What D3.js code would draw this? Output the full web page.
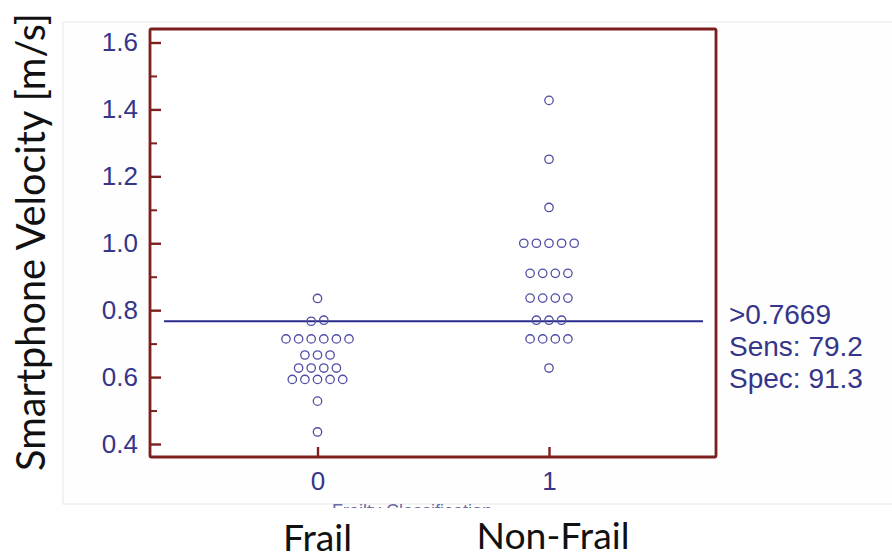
<!DOCTYPE html>
<html>
<head>
<meta charset="utf-8">
<script src="https://cdn.jsdelivr.net/npm/d3@7"></script>
<style>
  html, body { margin: 0; padding: 0; background: #ffffff; }
  svg { display: block; }
</style>
</head>
<body>
<svg id="chart" width="892" height="559"></svg>
<script>
// Smartphone gait velocity by frailty group (dot diagram with ROC criterion)
const groups = [0, 1];
const groupNames = ["Frail", "Non-Frail"];

const frailVelocity = [
  0.835,
  0.7669, 0.770,
  0.714, 0.714, 0.714, 0.714, 0.714, 0.714,
  0.666, 0.666, 0.666,
  0.627, 0.627, 0.627, 0.627,
  0.593, 0.593, 0.593, 0.593, 0.593,
  0.528,
  0.436
];

const nonFrailVelocity = [
  1.427,
  1.251,
  1.107,
  1.000, 1.000, 1.000, 1.000, 1.000,
  0.910, 0.910, 0.910, 0.910,
  0.836, 0.836, 0.836, 0.836,
  0.770, 0.770, 0.770,
  0.714, 0.714, 0.714, 0.714,
  0.627
];

const yTicks = [0.4, 0.6, 0.8, 1.0, 1.2, 1.4, 1.6];
const yMinorTicks = [0.5, 0.7, 0.9, 1.1, 1.3, 1.5];
const criterion = 0.7669;
const criterionLabels = [">0.7669", "Sens: 79.2", "Spec: 91.3"];

const svg = d3.select("#chart");
const W = 892, H = 559;

const box = { left: 150, top: 29, right: 716, bottom: 457 };

const y = d3.scaleLinear().domain([0.4, 1.6]).range([444, 42.5]);
const x = d3.scaleLinear().domain([0, 1]).range([317.5, 549]);

const RED = "#7d1f1f";
const BLUE = "#35358a";
const DOT = "#4e4ea3";
const AXFONT = "'Liberation Sans', Arial, sans-serif";
const TITLEFONT = "Lato, 'Open Sans', sans-serif";

// faint outer panel
svg.append("rect")
  .attr("x", 63).attr("y", 22)
  .attr("width", W - 63 + 5).attr("height", 482)
  .attr("fill", "#fefefe")
  .attr("stroke", "#ececec").attr("stroke-width", 1.2);

// partially hidden x-axis title (cut off by the panel edge)
const clip = svg.append("defs").append("clipPath").attr("id", "titleclip");
clip.append("rect").attr("x", 0).attr("y", 504).attr("width", W).attr("height", 4);
svg.append("text")
  .attr("clip-path", "url(#titleclip)")
  .attr("x", 412).attr("y", 517)
  .attr("text-anchor", "middle")
  .attr("font-family", AXFONT).attr("font-size", 18)
  .attr("fill", "#6a6aa6")
  .text("Frailty Classification");

// plot frame
svg.append("rect")
  .attr("x", box.left).attr("y", box.top)
  .attr("width", box.right - box.left).attr("height", box.bottom - box.top)
  .attr("fill", "#ffffff")
  .attr("stroke", RED).attr("stroke-width", 2.8)
  .attr("rx", 1.5);

// y axis: major ticks with labels, pointing inwards
const yAxis = svg.append("g")
  .attr("transform", `translate(${box.left},0)`)
  .call(d3.axisLeft(y).tickValues(yTicks).tickFormat(d3.format(".1f"))
    .tickSize(-11).tickPadding(12));
yAxis.select(".domain").remove();
yAxis.selectAll(".tick line").attr("stroke", RED).attr("stroke-width", 2.4);
yAxis.selectAll(".tick text")
  .attr("font-family", AXFONT).attr("font-size", 26).attr("fill", BLUE);

// y axis: minor ticks
const yMinor = svg.append("g")
  .attr("transform", `translate(${box.left},0)`)
  .call(d3.axisLeft(y).tickValues(yMinorTicks).tickFormat("").tickSize(-7));
yMinor.select(".domain").remove();
yMinor.selectAll(".tick line").attr("stroke", RED).attr("stroke-width", 2);

// x axis
const xAxis = svg.append("g")
  .attr("transform", `translate(0,${box.bottom})`)
  .call(d3.axisBottom(x).tickValues(groups).tickFormat(d3.format("d"))
    .tickSize(-10).tickPadding(15));
xAxis.select(".domain").remove();
xAxis.selectAll(".tick line").attr("stroke", RED).attr("stroke-width", 2.4);
xAxis.selectAll(".tick text")
  .attr("font-family", AXFONT).attr("font-size", 26).attr("fill", BLUE);

// criterion line
svg.append("line")
  .attr("x1", 164).attr("x2", 703)
  .attr("y1", y(criterion)).attr("y2", y(criterion))
  .attr("stroke", "#2b2b8c").attr("stroke-width", 2);

// dots: values sharing a bin are spread side by side
const step = 12.6;
function layout(values, g) {
  const rows = d3.group(values, v => Math.round(v * 100));
  const pts = [];
  for (const [, vals] of rows) {
    const n = vals.length;
    vals.forEach((v, i) => pts.push({ g, v, off: (i - (n - 1) / 2) * step }));
  }
  return pts;
}
const points = layout(frailVelocity, 0).concat(layout(nonFrailVelocity, 1));

svg.append("g").selectAll("circle")
  .data(points)
  .join("circle")
  .attr("cx", d => x(d.g) + d.off)
  .attr("cy", d => y(d.v))
  .attr("r", 4.2)
  .attr("fill", "none")
  .attr("stroke", DOT)
  .attr("stroke-width", 1.3);

// criterion annotation
svg.append("g").selectAll("text")
  .data(criterionLabels)
  .join("text")
  .attr("x", 729)
  .attr("y", (d, i) => 324 + i * 32)
  .attr("font-family", AXFONT).attr("font-size", 28)
  .attr("fill", BLUE)
  .text(d => d);

// y-axis title, sized to its span
const yTitle = svg.append("text")
  .attr("transform", "translate(45,242) rotate(-90)")
  .attr("text-anchor", "middle")
  .attr("font-family", TITLEFONT).attr("font-size", 32)
  .attr("fill", "#111111")
  .text("Smartphone Velocity [m/s]");
const tl = yTitle.node().getComputedTextLength();
yTitle.attr("font-size", 32 * 458 / tl);

// group names below the axis
const names = svg.append("g").selectAll("text")
  .data(groups)
  .join("text")
  .attr("x", d => x(d) + (d === 1 ? 4 : 0))
  .attr("y", d => d === 0 ? 551 : 549)
  .attr("text-anchor", "middle")
  .attr("font-family", TITLEFONT).attr("font-size", 34)
  .attr("fill", "#111111")
  .text(d => groupNames[d]);
const nfw = names.filter(d => d === 1).node().getComputedTextLength();
names.attr("font-size", 34 * 153 / nfw);
</script>
</body>
</html>
